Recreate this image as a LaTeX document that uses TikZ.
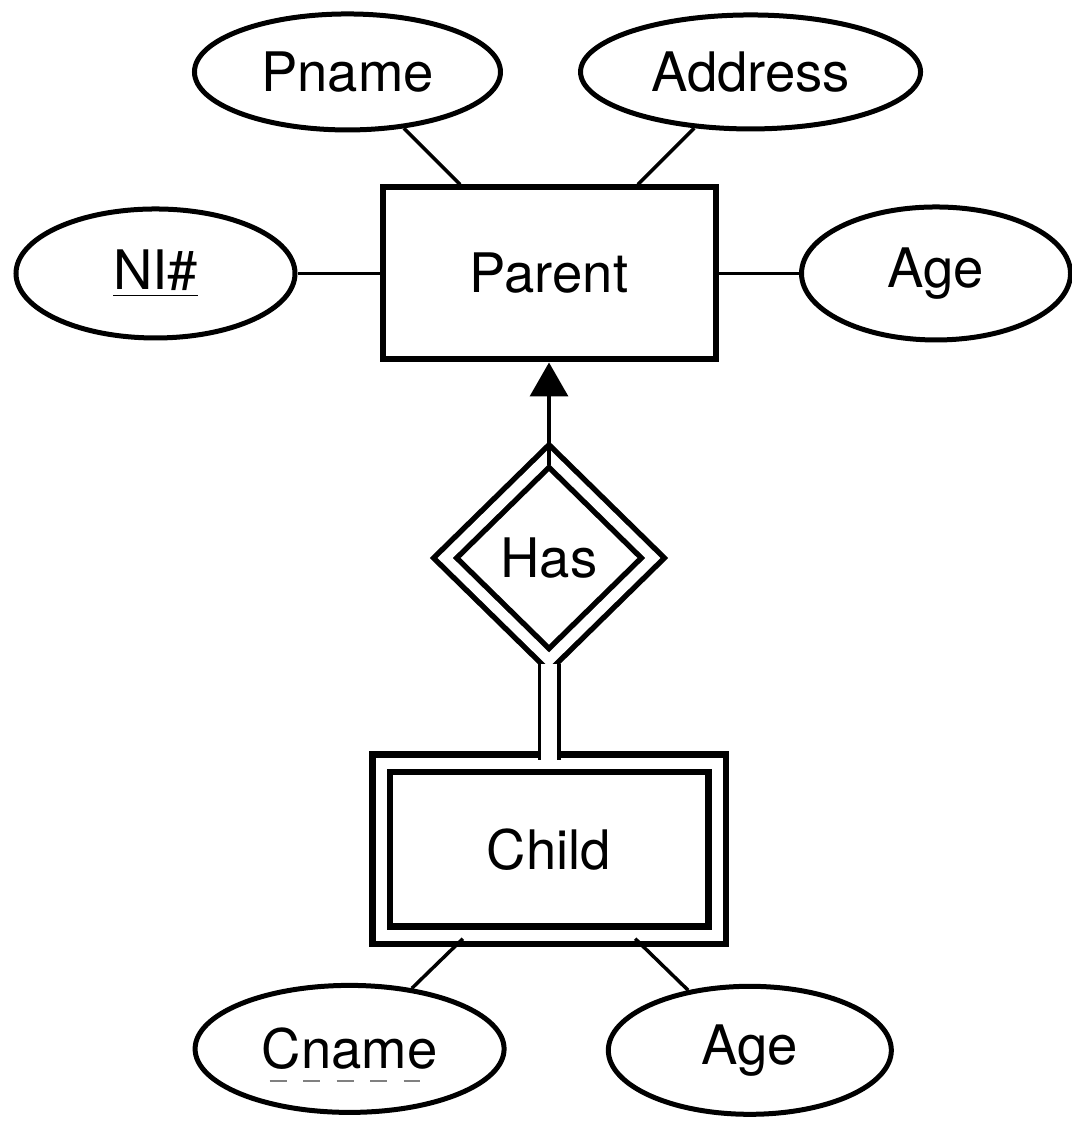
\documentclass[tikz,border=0pt]{standalone}
\usepackage{fontspec}
\setmainfont{TeX Gyre Heros}
\usetikzlibrary{arrows.meta,shapes.geometric,calc}

\begin{document}
\begin{tikzpicture}[>={Triangle[length=3.4mm,width=3.8mm]}, auto, node distance=2.85cm,
    every node/.style={font=\fontsize{15.5}{18}\selectfont},
    entity/.style={rectangle, draw, line width=0.6mm, minimum width=3.33cm, minimum height=1.72cm},
    weak/.style={rectangle, draw, double, double distance=1.1mm, line width=0.65mm, minimum width=3.36cm, minimum height=1.72cm},
    attr/.style={ellipse, draw, line width=0.5mm, inner sep=0pt},
    rel/.style={diamond, draw, double, double distance=1.05mm, line width=0.55mm, minimum width=2.1cm, minimum height=2.06cm, inner sep=0pt},
    link/.style={line width=0.35mm}]
    \useasboundingbox (0,0) rectangle (10.72,11.24);

    % Nodes {parent, has, child}
    \node [entity]	(parent) 	at (5.49,8.505)		{Parent};
    \node [rel]		(has)		[below of=parent, node distance=2.845cm]	{Has};
    \node [weak]	(child)		[below of=has, node distance=2.915cm]		{Child};

    % Attributes
    \node [attr, minimum width=3.06cm, minimum height=1.16cm]	(pname)		[above left of=parent]	{Pname};
    \node [attr, minimum width=3.40cm, minimum height=1.14cm]	(address)	[above right of=parent]	{Address};
    \node [attr, minimum width=2.79cm, minimum height=1.29cm]	(ni)		[left of=parent, node distance=3.935cm]		{\underline{NI\#}};
    \node [attr, minimum width=2.69cm, minimum height=1.33cm]	(age)		[right of=parent, node distance=3.87cm]		{Age};
    \node [attr, minimum width=3.09cm, minimum height=1.27cm]	(cname)		[below left of=child, node distance=2.82cm]	{Cname};
    \node [attr, minimum width=2.83cm, minimum height=1.28cm]	(cage)		[below right of=child, node distance=2.84cm]	{Age};

    % Paths
    \path [link]	(pname) edge (parent)
    				(address) edge (parent)
    				(ni) edge (parent)
    				(parent) edge (age);
    \path [link]	(cname) edge (child.226)
    				(cage) edge (child.314);
    \path [link, ->]	(has) edge [shorten <=-1.25mm] (parent);
    \path	(has) edge [double, double distance=1.6mm, line width=0.35mm] (child);

    % Partial key
    \draw [gray, line width=0.25mm, dash pattern=on 1.7mm off 1.65mm]
    	($(cname.center)+(-0.8,-0.32)$) -- ($(cname.center)+(0.7,-0.32)$);
\end{tikzpicture}
\end{document}
